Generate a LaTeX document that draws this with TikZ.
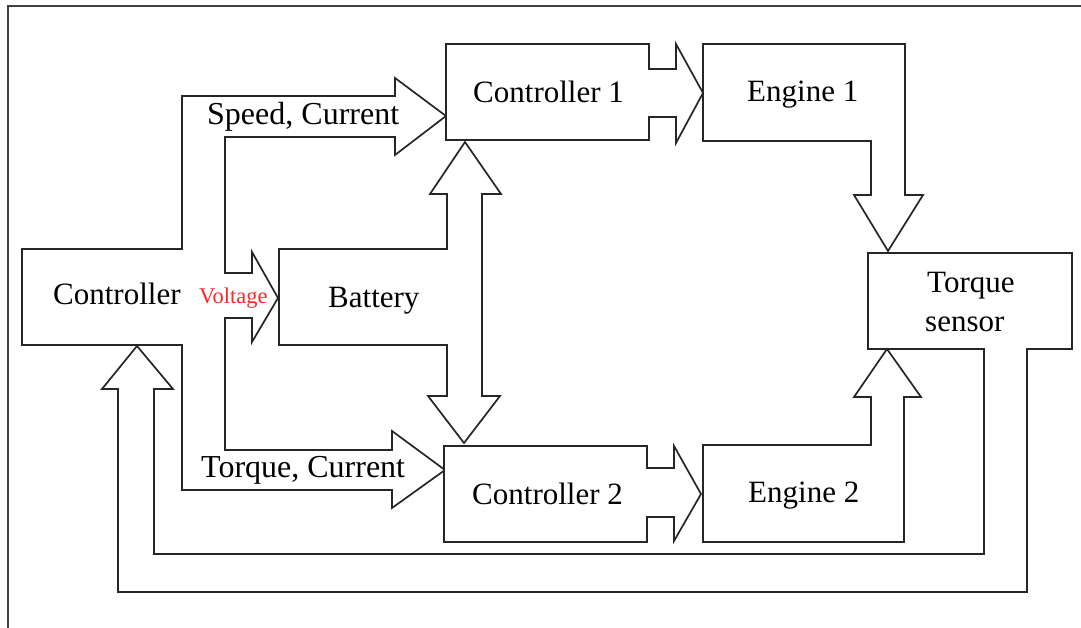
\documentclass[tikz,border=0pt]{standalone}
\usepackage{fontspec}
\setmainfont{Liberation Serif}
\begin{document}
\begin{tikzpicture}[x=1pt,y=-1pt,
  blk/.style={draw=black!85,line width=1.7pt,line join=miter,fill=white},
  lbl/.style={inner sep=0pt,anchor=base west,font=\fontsize{31}{36}\selectfont,text=black},
  albl/.style={lbl,font=\fontsize{32}{37}\selectfont},
  vlbl/.style={inner sep=0pt,anchor=base west,font=\fontsize{22.5}{26}\selectfont,text=red!85!white}]
\useasboundingbox (0,0) rectangle (1081,628);
% frame
\draw[black!75,line width=1.6pt] (8,640) -- (8,6) -- (1090,6);
% controller with output arrows
\draw[blk] (22,249) -- (182,249) -- (182,96) -- (395,96) -- (395,78) -- (446,116) -- (395,155) -- (395,137)
  -- (225,137) -- (225,273) -- (252,273) -- (252,252) -- (278,298) -- (252,342) -- (252,318) -- (225,318)
  -- (225,450) -- (392,450) -- (392,431) -- (445,470) -- (392,508) -- (392,490) -- (182,490) -- (182,345)
  -- (22,345) -- cycle;
% battery with double arrow
\draw[blk] (279,249) -- (447,249) -- (447,194) -- (430,194) -- (465,142) -- (501,194) -- (482,194)
  -- (482,396) -- (500,396) -- (464,443) -- (428,396) -- (447,396) -- (447,345) -- (279,345) -- cycle;
% controller 1
\draw[blk] (446,44) -- (649,44) -- (649,69) -- (676,69) -- (676,44) -- (703,93) -- (676,143) -- (676,117)
  -- (649,117) -- (649,140) -- (446,140) -- cycle;
% engine 1
\draw[blk] (703,44) -- (905,44) -- (905,195) -- (923,195) -- (888,251) -- (854,195) -- (871,195)
  -- (871,141) -- (703,141) -- cycle;
% torque sensor with feedback
\draw[blk] (868,253) -- (1072,253) -- (1072,349) -- (1027,349) -- (1027,592) -- (118,592) -- (118,389)
  -- (102,389) -- (137,346) -- (173,389) -- (154,389) -- (154,554) -- (984,554) -- (984,349) -- (868,349) -- cycle;
% engine 2
\draw[blk] (703,445) -- (871,445) -- (871,397) -- (854,397) -- (887,349) -- (921,397) -- (904,397)
  -- (904,542) -- (703,542) -- cycle;
% controller 2
\draw[blk] (444,446) -- (647,446) -- (647,468) -- (674,468) -- (674,446) -- (701,494) -- (674,541)
  -- (674,517) -- (647,517) -- (647,542) -- (444,542) -- cycle;
% labels
\node[lbl] (tctrl) at (53,305) {Controller};
\node[albl] (tspeed) at (207,125) {Speed, Current};
\node[albl] (ttorq) at (201,477) {Torque, Current};
\node[vlbl] (tvolt) at (199,303) {Voltage};
\node[lbl] (tbat) at (328,307) {Battery};
\node[lbl] (tc1) at (473,103) {Controller 1};
\node[lbl] (tc2) at (472,504) {Controller 2};
\node[lbl] (te1) at (747,102) {Engine 1};
\node[lbl] (te2) at (748,502) {Engine 2};
\node[lbl] (tts1) at (927,292) {Torque};
\node[lbl] (tts2) at (925,331) {sensor};
\end{tikzpicture}
\end{document}
